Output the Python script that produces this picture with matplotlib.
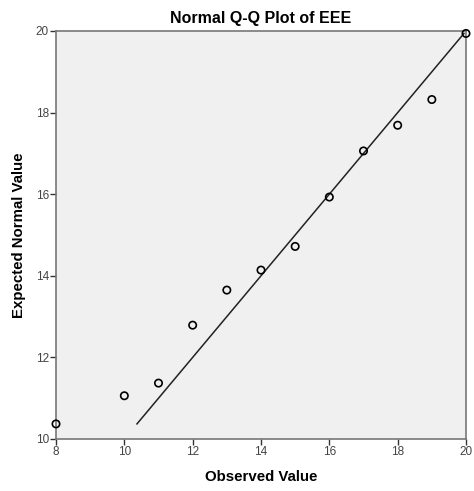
import matplotlib
matplotlib.use("Agg")
import matplotlib.pyplot as plt

observed = [8, 10, 11, 12, 13, 14, 15, 16, 17, 18, 19, 20]
expected = [10.37, 11.06, 11.37, 12.79, 13.65, 14.14, 14.72, 15.93, 17.06, 17.69, 18.32, 19.94]
line_x = [10.37, 19.94]
line_y = [10.37, 19.94]
ticks = [8, 10, 12, 14, 16, 18, 20]
yticks = [10, 12, 14, 16, 18, 20]

plt.rcParams['font.family'] = ['Liberation Sans', 'DejaVu Sans']
fig = plt.figure(figsize=(4.74, 4.91), dpi=100)
ax = fig.add_axes([56/474, 1-439/491, 410/474, 408/491])
ax.set_facecolor('#f0f0f0')
ax.plot(line_x, line_y, color='#222222', lw=1.1, zorder=2)
ax.scatter(observed, expected, s=28, facecolors='none', edgecolors='black', linewidths=1.2, zorder=3, clip_on=False)
ax.set_xlim(8, 20)
ax.set_ylim(10, 20)
ax.set_xticks(ticks)
ax.set_yticks(yticks)
ax.tick_params(direction='out', length=4, width=1, colors='#333333', labelsize=8.5, labelcolor='#444444', pad=1)
for s in ax.spines.values():
    s.set_color('#777777')
    s.set_linewidth(1.2)
ax.set_title('Normal Q-Q Plot of EEE', fontsize=11.5, fontweight='bold', pad=6)
ax.set_xlabel('Observed Value', fontsize=10.8, fontweight='bold', labelpad=9)
ax.set_ylabel('Expected Normal Value', fontsize=10.8, fontweight='bold', labelpad=7)
fig.savefig('out.png', dpi=100)
